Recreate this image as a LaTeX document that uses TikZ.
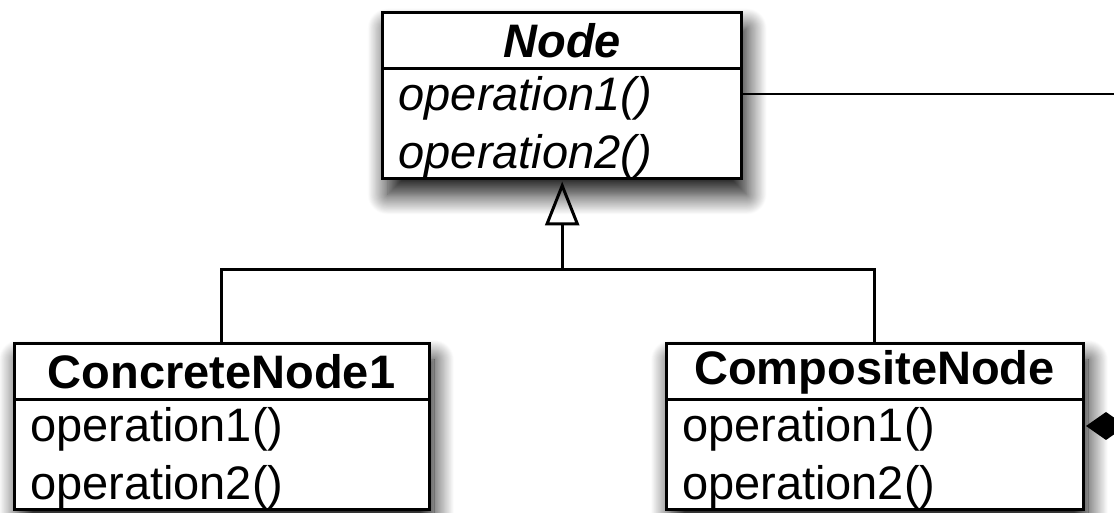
\documentclass[tikz,border=0pt]{standalone}
\usepackage{fontspec}
\setmainfont{Liberation Sans}
\usetikzlibrary{arrows.meta,positioning,backgrounds,shadows.blur}

\newcommand\classsize{\fontsize{47}{58}\selectfont}

\begin{document}
\begin{tikzpicture}[
  x=1pt, y=1pt,
  classhead/.style={rectangle, draw, line width=3pt, fill=white, outer sep=0pt, inner sep=0pt, minimum height=56pt, font=\classsize\bfseries},
  classbody/.style={rectangle, draw, line width=3pt, fill=white, outer sep=0pt, inner xsep=16pt, inner ysep=0pt, minimum height=110pt, align=left, font=\classsize, execute at begin node=\rule{0pt}{41pt}},
  boxshadow/.style={blur shadow={shadow xshift=5pt, shadow yshift=-16pt, shadow blur radius=20pt, shadow blur steps=24, shadow opacity=95}},
  link/.style={line width=3pt}
]
\useasboundingbox (0,0) rectangle (1114,513);
\clip (0,0) rectangle (1114,513);

% abstract base class
\node[classhead, minimum width=359pt, anchor=north west, font=\classsize\bfseries\itshape] (nodehead) at (382.7,500.5) {Node};
\node[classbody, text width=327pt, below=0pt of nodehead, font=\classsize\itshape] (nodebody) {operation1()\\operation2()};

% subclasses
\node[classhead, minimum width=415pt, anchor=north west] (concretehead) at (14,169) {ConcreteNode1};
\node[classbody, text width=383pt, below=0pt of concretehead] (concretebody) {operation1()\\operation2()};
\node[classhead, minimum width=417pt, anchor=north west] (compositehead) at (666,169) {CompositeNode};
\node[classbody, text width=385pt, below=0pt of compositehead] (compositebody) {operation1()\\operation2()};

\begin{scope}[on background layer]
  \foreach \c in {node,concrete,composite}
    \path[boxshadow] (\c head.north west) rectangle (\c body.south east);
\end{scope}

% inheritance
\coordinate (fork) at (nodebody.south |- 0,243);
\draw[link] (concretehead.north) |- (fork) -| (compositehead.north);
\draw[link, -{Triangle[open, length=44pt, width=34pt]}, shorten >=3pt] (fork) -- (nodebody.south);

% children / composition
\coordinate (offnode) at (1130,419);
\coordinate (offcomp) at (1160,87);
\draw[link, line width=2.5pt] (nodebody.east |- offnode) -- (offnode);
\draw[link, {Diamond[length=40pt, width=28pt]}-, shorten <=3pt] (compositebody.east |- offcomp) -- (offcomp);
\end{tikzpicture}
\end{document}
